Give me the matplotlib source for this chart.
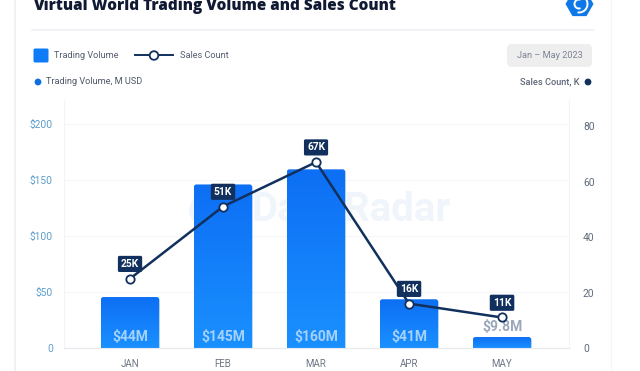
import matplotlib.pyplot as plt
import numpy as np
from matplotlib.colors import LinearSegmentedColormap
from matplotlib.patches import Arc, Circle, FancyBboxPatch, RegularPolygon

months = ["JAN", "FEB", "MAR", "APR", "MAY"]
volume = [45.5, 146, 159.5, 43.5, 9.8]
volume_labels = ["$44M", "$145M", "$160M", "$41M", "$9.8M"]
sales = [25, 51, 67, 16, 11]
sales_labels = ["25K", "51K", "67K", "16K", "11K"]
left_ticks = [0, 50, 100, 150, 200]
left_labels = ["0", "$50", "$100", "$150", "$200"]
right_ticks = [0, 20, 40, 60, 80]

NAVY = "#12305e"
BLUE = "#0f7bf7"
W, H = 640, 371

plt.rcParams["font.family"] = ["Roboto", "DejaVu Sans"]

fig = plt.figure(figsize=(W / 100, H / 100), dpi=100, facecolor="white")

# main chart, placed in pixels
ax = fig.add_axes([64 / W, 1 - 348 / H, 505 / W, 248 / H])
ax.set_xlim(-0.71, 4.72)
ax.set_ylim(0, 221.4)
ax.set_facecolor("none")
ax.set_xticks(range(len(months)), months)
ax.set_yticks(left_ticks, left_labels)
ax.tick_params(axis="both", length=0)
ax.tick_params(axis="x", labelsize=7, labelcolor="#6f7686", pad=8)
ax.tick_params(axis="y", labelsize=7.4, labelcolor="#5f9fcb", pad=8)
ax.grid(axis="y", color="#f5f6f9", lw=0.8)
ax.set_axisbelow(True)
ax.spines["top"].set_visible(False)
ax.spines["left"].set_color("#f2f4f7")
ax.spines["right"].set_color("#f2f4f7")
ax.spines["bottom"].set_color("#e6eaef")

grad = LinearSegmentedColormap.from_list("bar", ["#0d6ff4", "#1a90ff"])
gradient = np.linspace(0, 1, 128).reshape(-1, 1)
bar_w = 0.63
for i, val in enumerate(volume):
    # rounded top only, the lower corners fall under the axis
    patch = FancyBboxPatch(
        (i - bar_w / 2, -10),
        bar_w,
        val + 10,
        boxstyle="round,pad=0,rounding_size=0.03",
        mutation_aspect=83,
        facecolor="none",
        edgecolor="none",
    )
    ax.add_patch(patch)
    im = ax.imshow(
        gradient,
        extent=(i - bar_w / 2, i + bar_w / 2, 0, val),
        cmap=grad,
        aspect="auto",
        origin="upper",
        zorder=2,
    )
    im.set_clip_path(patch)
ax.set_xlim(-0.71, 4.72)
ax.set_ylim(0, 221.4)

for i, (val, lab) in enumerate(zip(volume, volume_labels)):
    if val < 20:
        ax.annotate(lab, (i, val), xytext=(0, 7), textcoords="offset points",
                    ha="center", va="center", fontsize=10, fontweight="bold",
                    color="#9aa7bb", zorder=3)
    else:
        ax.text(i, 10, lab, ha="center", va="center", fontsize=10,
                fontweight="bold", color="#a5d2fb", zorder=3)

ax2 = ax.twinx()
ax2.set_ylim(0, 89.4)
ax2.set_yticks(right_ticks)
ax2.tick_params(axis="y", length=0, labelsize=7.4, labelcolor="#5d6b7c", pad=10)
for side in ["top", "left", "right", "bottom"]:
    ax2.spines[side].set_visible(False)
ax2.plot(range(len(sales)), sales, color=NAVY, lw=1.8, marker="o", ms=6,
         mfc="white", mec=NAVY, mew=1.3, zorder=5)
for i, (val, lab) in enumerate(zip(sales, sales_labels)):
    ax2.annotate(lab, (i, val), xytext=(0, 10.6), textcoords="offset points",
                 ha="center", va="center", fontsize=7.4, fontweight="bold",
                 color="white", zorder=6,
                 bbox=dict(boxstyle="round,pad=0.3,rounding_size=0.15", fc=NAVY, ec="none"))

# everything around the chart, in pixel coordinates
deco = fig.add_axes([0, 0, 1, 1], zorder=-1)
deco.set_xlim(0, W)
deco.set_ylim(H, 0)
deco.axis("off")
deco.plot([15, 15], [0, H], color="#eeeff2", lw=1.2)
deco.plot([611, 611], [0, H], color="#f4f5f7", lw=1.0)
deco.plot([32, 593], [30, 30], color="#eef0f3", lw=1.2)
deco.text(351, 210, "DappRadar", ha="center", va="center", fontsize=29,
          fontweight="bold", color="#f0f5fc")
deco.add_patch(Circle((206, 210), 14, fc="none", ec="#f0f5fc", lw=4))

top = fig.add_axes([0, 0, 1, 1], zorder=10)
top.set_xlim(0, W)
top.set_ylim(H, 0)
top.axis("off")
top.patch.set_alpha(0)
top.text(33, 6, "Virtual World Trading Volume and Sales Count", ha="left", va="center",
         fontsize=10.95, fontweight="heavy", color="#101a33", family=["Open Sans", "DejaVu Sans"])

top.add_patch(FancyBboxPatch((33.5, 48.5), 15, 14, boxstyle="round,pad=0,rounding_size=1.5",
                             fc=BLUE, ec="none"))
top.text(54, 55, "Trading Volume", ha="left", va="center", fontsize=6.6, color="#555d6e")
top.plot([135, 173], [55, 55], color=NAVY, lw=1.4)
top.add_patch(Circle((154, 55.5), 4.3, fc="white", ec=NAVY, lw=1.3, zorder=3))
top.text(180, 55, "Sales Count", ha="left", va="center", fontsize=6.6, color="#555d6e")

top.add_patch(Circle((38, 82), 3.4, fc="#0e6fe0", ec="none"))
top.text(46.5, 82, "Trading Volume, M USD", ha="left", va="center", fontsize=6.6, color="#4f5768")
top.text(579, 82, "Sales Count, K", ha="right", va="center", fontsize=6.7, fontweight="medium", color="#5f6778")
top.add_patch(Circle((588, 82), 3.4, fc=NAVY, ec="none"))

top.add_patch(FancyBboxPatch((507, 44), 85, 23, boxstyle="round,pad=0,rounding_size=5",
                             fc="#eeeeee", ec="none"))
top.text(549.5, 55, "Jan – May 2023", ha="center", va="center", fontsize=6.6, color="#7b8394")

# logo, cut by the top of the picture
top.add_patch(RegularPolygon((579.5, 4), 6, radius=14, orientation=np.pi / 2, fc="#0f78e8", ec="none"))
top.add_patch(Arc((579, 4), 17, 17, theta1=240, theta2=100, color="white", lw=1.4))
top.add_patch(Arc((579, 4), 9, 9, theta1=70, theta2=290, color="white", lw=1.4))

fig.savefig("out.png", dpi=100)
